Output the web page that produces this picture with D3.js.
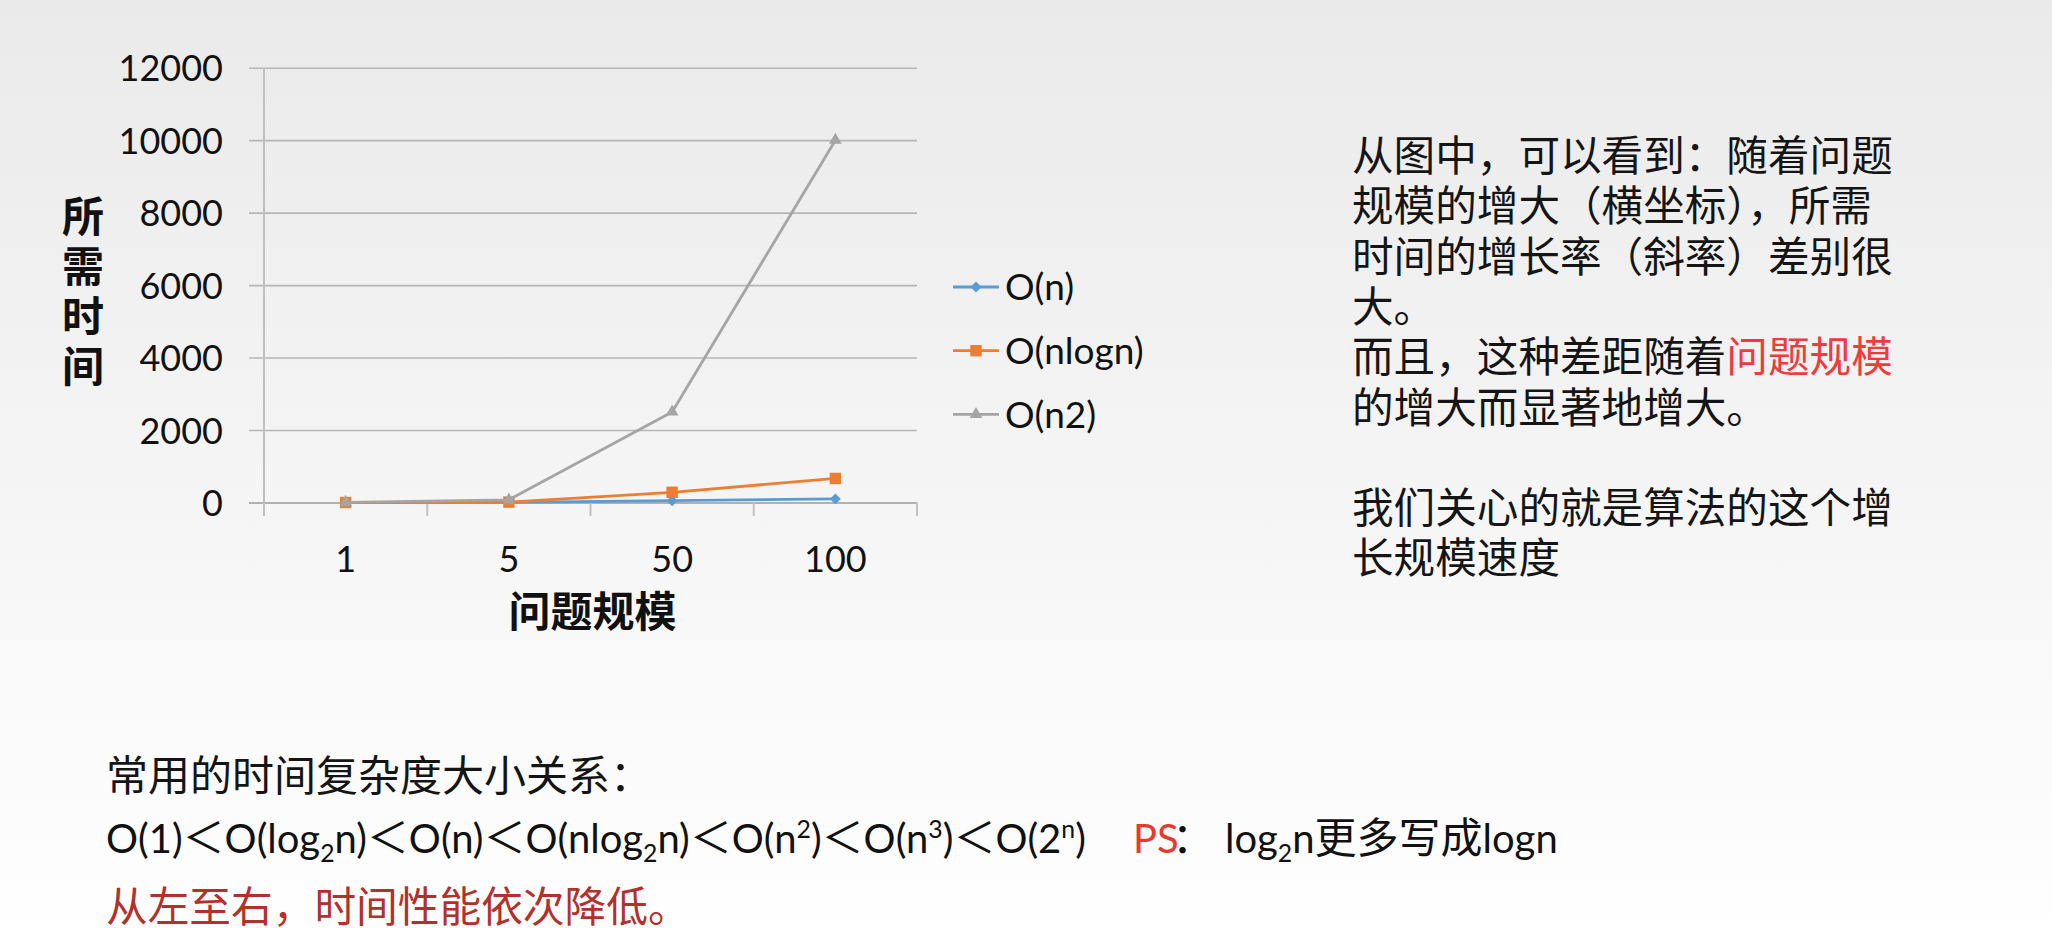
<!DOCTYPE html>
<html>
<head>
<meta charset="utf-8">
<script src="https://cdn.jsdelivr.net/npm/d3@7"></script>
<style>
  html, body { margin: 0; padding: 0; background: #fff; }
  svg { display: block; }
</style>
</head>
<body>
<svg id="chart" width="2052" height="942"></svg>
<script>
// ---------------- data ----------------
const categories = ["1", "5", "50", "100"];
const seriesNames = ["O(n)", "O(nlogn)", "O(n2)"];
const valuesN = [1, 5, 50, 100];
const valuesNLogN = [0, 12, 282, 664];
const valuesN2 = [1, 75, 2500, 10000];
const yTicks = [0, 2000, 4000, 6000, 8000, 10000, 12000];
const yTitle = "所需时间";
const xTitle = "问题规模";

const rightLines = [
  [{ t: "从图中，可以看到：随着问题" }],
  [{ t: "规模的增大（横坐标），所需" }],
  [{ t: "时间的增长率（斜率）差别很" }],
  [{ t: "大。" }],
  [{ t: "而且，这种差距随着" }, { t: "问题规模", red: true }],
  [{ t: "的增大而显著地增大。" }],
  [],
  [{ t: "我们关心的就是算法的这个增" }],
  [{ t: "长规模速度" }]
];
const bottomLine1 = "常用的时间复杂度大小关系：";
// formula pieces: [text, kind] kind: n normal, sub, sup, cjk
const formula = [
  ["O(1)", "n"], ["＜", "cjk"], ["O(log", "n"], ["2", "sub"], ["n)", "n"], ["＜", "cjk"],
  ["O(n)", "n"], ["＜", "cjk"], ["O(nlog", "n"], ["2", "sub"], ["n)", "n"], ["＜", "cjk"],
  ["O(n", "n"], ["2", "sup"], [")", "n"], ["＜", "cjk"], ["O(n", "n"], ["3", "sup"], [")", "n"],
  ["＜", "cjk"], ["O(2", "n"], ["n", "sup"], [")", "n"]
];
const psLabel = "PS";
const psColon = "：";
const psText = [["log", "n"], ["2", "sub"], ["n", "n"], ["更多写成", "cjk"], ["logn", "n"]];
const bottomLine3 = "从左至右，时间性能依次降低。";

// ---------------- setup ----------------
const svg = d3.select("#chart");
const W = 2052, H = 942;
const latin = "Lato, 'Open Sans', 'Liberation Sans', sans-serif";
const cjk = "'Noto Sans CJK SC', 'Noto Sans', sans-serif";

const defs = svg.append("defs");
const grad = defs.append("linearGradient").attr("id", "bg")
  .attr("x1", 0).attr("y1", 0).attr("x2", 0).attr("y2", 1);
grad.append("stop").attr("offset", "0%").attr("stop-color", "#eaeaea");
grad.append("stop").attr("offset", "100%").attr("stop-color", "#ffffff");
svg.append("rect").attr("width", W).attr("height", H).attr("fill", "url(#bg)");

// ---------------- chart ----------------
const plotLeft = 264, plotRight = 917, gridLeft = 249;
const x = d3.scaleBand().domain(categories).range([plotLeft, plotRight]).padding(0);
const y = d3.scaleLinear().domain([0, 12000]).range([502.5, 67.7]);
const colors = ["#5b9bd5", "#ed7d31", "#a5a5a5"];
const seriesValues = [valuesN, valuesNLogN, valuesN2];
const g = svg.append("g");

// y axis with gridlines
const yAxis = d3.axisLeft(y).tickValues(yTicks).tickFormat(d3.format("d"))
  .tickSizeInner(-(plotRight - gridLeft)).tickSizeOuter(0).tickPadding(26);
const yg = g.append("g").attr("transform", `translate(${gridLeft},0)`).call(yAxis);
yg.select(".domain").remove();
yg.selectAll(".tick line")
  .attr("stroke", d => d === 0 ? "#9a9a9a" : "#b6b6b6")
  .attr("stroke-width", 1.6);
yg.selectAll(".tick text")
  .attr("font-family", latin).attr("font-size", 36).attr("fill", "#111")
  .attr("dy", "0.36em");

// vertical axis line
g.append("line").attr("x1", plotLeft).attr("x2", plotLeft)
  .attr("y1", y(12000)).attr("y2", 516)
  .attr("stroke", "#c0c0c0").attr("stroke-width", 2);

// x axis tick marks between categories
const boundaries = categories.map(c => x(c)).concat([plotRight]).slice(1);
g.selectAll(".xtick").data(boundaries).enter().append("line")
  .attr("x1", d => d).attr("x2", d => d)
  .attr("y1", y(0)).attr("y2", 516)
  .attr("stroke", "#c0c0c0").attr("stroke-width", 2);

// x labels
const xAxis = d3.axisBottom(x).tickSize(0).tickPadding(0);
const xg = g.append("g").attr("transform", `translate(0,${y(0)})`).call(xAxis);
xg.select(".domain").remove();
xg.selectAll(".tick text")
  .attr("font-family", latin).attr("font-size", 36).attr("fill", "#111")
  .attr("y", 0).attr("dy", 0).attr("transform", "translate(0,69.5)");

const cx = d => x(d) + x.bandwidth() / 2;

// lines
const line = d3.line().x((d, i) => cx(categories[i])).y(d => y(d));
const symbols = [
  d3.symbol().type(d3.symbolSquare).size(60),
  d3.symbol().type(d3.symbolSquare).size(130),
  d3.symbol().type(d3.symbolTriangle).size(70)
];
const symRot = [45, 0, 0];

seriesValues.forEach((vals, s) => {
  g.append("path").datum(vals).attr("d", line)
    .attr("fill", "none").attr("stroke", colors[s]).attr("stroke-width", 2.8)
    .attr("stroke-linejoin", "round");
  g.selectAll(".m" + s).data(vals).enter().append("path")
    .attr("d", symbols[s])
    .attr("transform", (d, i) => `translate(${cx(categories[i])},${y(d)}) rotate(${symRot[s]})`)
    .attr("fill", colors[s]);
});

// y title (vertical stacked, one text element)
g.append("text")
  .attr("x", 83).attr("y", 195)
  .attr("font-family", cjk).attr("font-weight", 700)
  .attr("font-size", 42).attr("fill", "#111")
  .style("writing-mode", "vertical-rl")
  .style("letter-spacing", "8px")
  .text(yTitle);

// x title
g.append("text").attr("x", (plotLeft + plotRight) / 2 + 2).attr("y", 611 + 16)
  .attr("font-family", cjk).attr("font-weight", 700).attr("font-size", 42)
  .attr("fill", "#111").attr("text-anchor", "middle").text(xTitle);

// legend
const lg = svg.append("g");
seriesNames.forEach((name, s) => {
  const ly = 287 + s * 63.7;
  lg.append("line").attr("x1", 953).attr("x2", 999).attr("y1", ly).attr("y2", ly)
    .attr("stroke", colors[s]).attr("stroke-width", 2.8);
  lg.append("path").attr("d", symbols[s])
    .attr("transform", `translate(976,${ly}) rotate(${symRot[s]})`).attr("fill", colors[s]);
  lg.append("text").attr("x", 1005).attr("y", ly).attr("dy", "0.36em")
    .attr("font-family", latin).attr("font-size", 37).attr("fill", "#111").text(name);
});

// ---------------- right text ----------------
const rfs = 41.6;
const rt = svg.append("text").attr("font-family", cjk).attr("font-size", rfs).attr("fill", "#151515");
rightLines.forEach((segs, i) => {
  const ly = 155 + i * 50.3 + 0.385 * rfs;
  segs.forEach((seg, j) => {
    const ts = rt.append("tspan").text(seg.t).attr("fill", seg.red ? "#ef3b3b" : "#151515");
    if (j === 0) ts.attr("x", 1352).attr("y", ly);
  });
});

// ---------------- bottom text ----------------
const bx = 106;
svg.append("text").attr("x", bx).attr("y", 775 + 0.385 * 42)
  .attr("font-family", cjk).attr("font-size", 42).attr("fill", "#151515").text(bottomLine1);

function richText(parent, pieces, xPos, baseY, fs, cfs, color) {
  const t = parent.append("text").attr("x", xPos).attr("y", baseY).attr("fill", color)
    .attr("font-family", latin).attr("font-size", fs);
  pieces.forEach(([txt, kind]) => {
    const ts = t.append("tspan").text(txt);
    if (kind === "cjk") ts.attr("font-family", cjk).attr("font-size", cfs);
    if (kind === "sub") ts.attr("font-size", fs * 0.62).attr("dy", fs * 0.22);
    if (kind === "sup") ts.attr("font-size", fs * 0.62).attr("dy", -fs * 0.38);
  });
  let shift = 0;
  t.selectAll("tspan").each(function (d, i) {
    const p = pieces[i];
    if (p[1] === "sub") { shift = fs * 0.22; }
    else if (p[1] === "sup") { shift = -fs * 0.38; }
    else if (shift !== 0) { d3.select(this).attr("dy", -shift); shift = 0; }
  });
  return t;
}
const lb = 853;
richText(svg, formula, bx, lb, 40, 42, "#111");
svg.append("text").attr("x", 1133).attr("y", lb).attr("font-family", latin)
  .attr("font-size", 40).attr("fill", "#e8392f").text(psLabel);
svg.append("text").attr("x", 1172).attr("y", lb).attr("font-family", cjk)
  .attr("font-size", 42).attr("fill", "#111").text(psColon);
richText(svg, psText, 1225, lb, 40, 42, "#111");

svg.append("text").attr("x", bx).attr("y", 906 + 0.385 * 41.7)
  .attr("font-family", cjk).attr("font-size", 41.7).attr("fill", "#b3302b").text(bottomLine3);
</script>
</body>
</html>
